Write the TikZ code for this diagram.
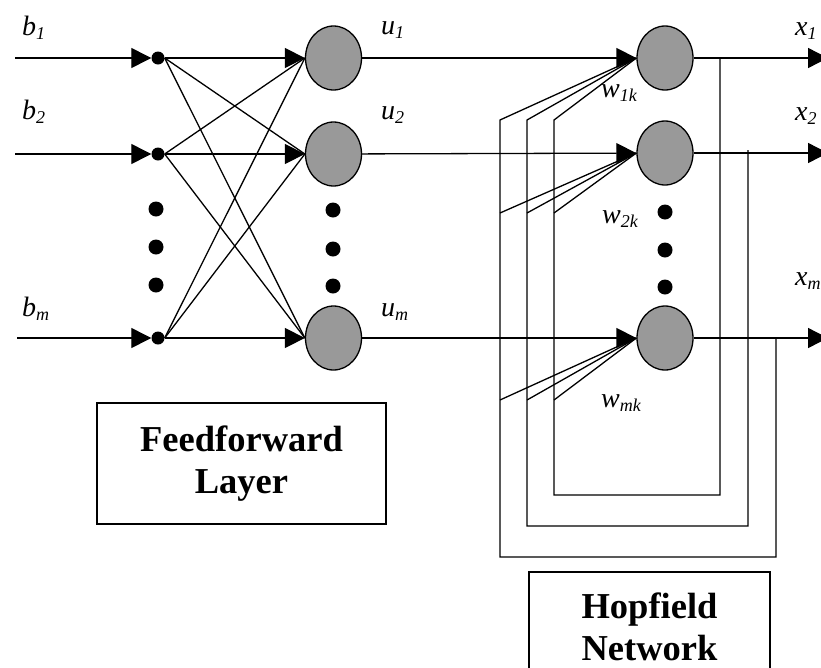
\documentclass[tikz,border=0pt]{standalone}
\usepackage{fontspec}
\setmainfont{Liberation Serif}
\usetikzlibrary{arrows.meta,shapes.geometric}
\definecolor{ngray}{RGB}{153,153,153}
\newcommand\lbl[2]{\textit{#1}\raisebox{-4pt}{\fontsize{18}{18}\selectfont\textit{#2}}}
\begin{document}
\begin{tikzpicture}[x=1pt,y=-1pt,
  wire/.style={line width=1.3pt},
  arr/.style={wire,-{Triangle[length=20pt,width=20pt]}},
  neuron/.style={ellipse,draw,line width=1.3pt,fill=ngray,minimum width=56pt,minimum height=64pt,inner sep=0pt},
  jdot/.style={circle,fill=black,inner sep=0pt,minimum size=13pt},
  vdot/.style={circle,fill=black,inner sep=0pt,minimum size=15pt},
  lab/.style={anchor=base west,inner sep=0pt,font=\fontsize{28}{28}\selectfont},
  titlebox/.style={draw,line width=2pt,align=center,inner sep=0pt,font=\fontsize{36.5}{42}\selectfont\bfseries}]
\useasboundingbox (0,0) rectangle (821,667);
\clip (0,0) rectangle (821,667);

% input start points
\coordinate (in1) at (15,58);
\coordinate (in2) at (15,154);
\coordinate (inm) at (17,338);

% junction dots
\node[jdot] (d1) at (158,58) {};
\node[jdot] (d2) at (158,154) {};
\node[jdot] (dm) at (158,338) {};
\node[vdot] (vl1) at (156,209) {};
\node[vdot] (vl2) at (156,247) {};
\node[vdot] (vl3) at (156,285) {};

% feedforward neurons
\node[neuron] (n1) at (333.5,58) {};
\node[neuron] (n2) at (333.5,154) {};
\node[neuron] (nm) at (333.5,338) {};
\node[vdot] (vm1) at (333,210) {};
\node[vdot] (vm2) at (333,249) {};
\node[vdot] (vm3) at (333,286) {};

% hopfield neurons
\node[neuron] (h1) at (665,58) {};
\node[neuron] (h2) at (665,153) {};
\node[neuron] (hm) at (665,338) {};
\node[vdot] (vr1) at (665,212) {};
\node[vdot] (vr2) at (665,250) {};
\node[vdot] (vr3) at (665,287) {};

% outputs
\coordinate (o1) at (828,58);
\coordinate (o2) at (828,153);
\coordinate (om) at (828,338);

% labels
\node[lab] (lb1) at (22,35) {\lbl{b}{1}};
\node[lab] (lb2) at (22,119) {\lbl{b}{2}};
\node[lab] (lbm) at (22,316) {\lbl{b}{m}};
\node[lab] (lu1) at (381,34) {\lbl{u}{1}};
\node[lab] (lu2) at (381,119) {\lbl{u}{2}};
\node[lab] (lum) at (381,316) {\lbl{u}{m}};
\node[lab] (lx1) at (795,35) {\lbl{x}{1}};
\node[lab] (lx2) at (795,120) {\lbl{x}{2}};
\node[lab] (lxm) at (795,285) {\lbl{x}{m}};
\node[lab] (lw1) at (601,97) {\lbl{w}{1k}};
\node[lab] (lw2) at (602,223) {\lbl{w}{2k}};
\node[lab] (lwm) at (601,407) {\lbl{w}{mk}};

% inputs
\draw[arr] (in1) -- (d1);
\draw[arr] (in2) -- (d2);
\draw[arr] (inm) -- (dm);

% feedforward connections
\draw[arr] (d1) -- (n1);
\draw[arr] (d2) -- (n2);
\draw[arr] (dm) -- (nm);
\draw[wire] (d1.east) -- (n2.west);
\draw[wire] (d1.east) -- (nm.west);
\draw[wire] (d2.east) -- (n1.west);
\draw[wire] (d2.east) -- (nm.west);
\draw[wire] (dm.east) -- (n1.west);
\draw[wire] (dm.east) -- (n2.west);

% u lines
\draw[arr] (n1) -- (h1);
\draw[arr] (n2) -- (h2);
\draw[arr] (nm) -- (hm);

% outputs
\draw[arr] (h1) -- (o1);
\draw[arr] (h2) -- (o2);
\draw[arr] (hm) -- (om);

% feedback loops
\coordinate (fb1) at (720,58);
\coordinate (fc1) at (554,495);
\coordinate (ft1) at (554,120);
\coordinate (fb2) at (748,150);
\coordinate (fc2) at (527,526);
\coordinate (ft2) at (527,120);
\coordinate (fb3) at (776,338);
\coordinate (fc3) at (500,557);
\coordinate (ft3) at (500,120);
\draw[wire] (fb1) |- (fc1) -- (ft1) -- (h1.west);
\draw[wire] (fb2) |- (fc2) -- (ft2) -- (h1.west);
\draw[wire] (fb3) |- (fc3) -- (ft3) -- (h1.west);

\coordinate (g1a) at (554,213);
\coordinate (g2a) at (527,213);
\coordinate (g3a) at (500,213);
\coordinate (g1b) at (554,400);
\coordinate (g2b) at (527,400);
\coordinate (g3b) at (500,400);
\draw[wire] (g1a) -- (h2.west);
\draw[wire] (g2a) -- (h2.west);
\draw[wire] (g3a) -- (h2.west);
\draw[wire] (g1b) -- (hm.west);
\draw[wire] (g2b) -- (hm.west);
\draw[wire] (g3b) -- (hm.west);

% boxes
\node[titlebox,minimum width=289pt,minimum height=121pt] (ffbox) at (241.5,463.5) {Feedforward\\Layer};
\node[titlebox,minimum width=241pt,minimum height=110pt] (hfbox) at (649.5,627) {Hopfield\\Network};
\end{tikzpicture}
\end{document}
